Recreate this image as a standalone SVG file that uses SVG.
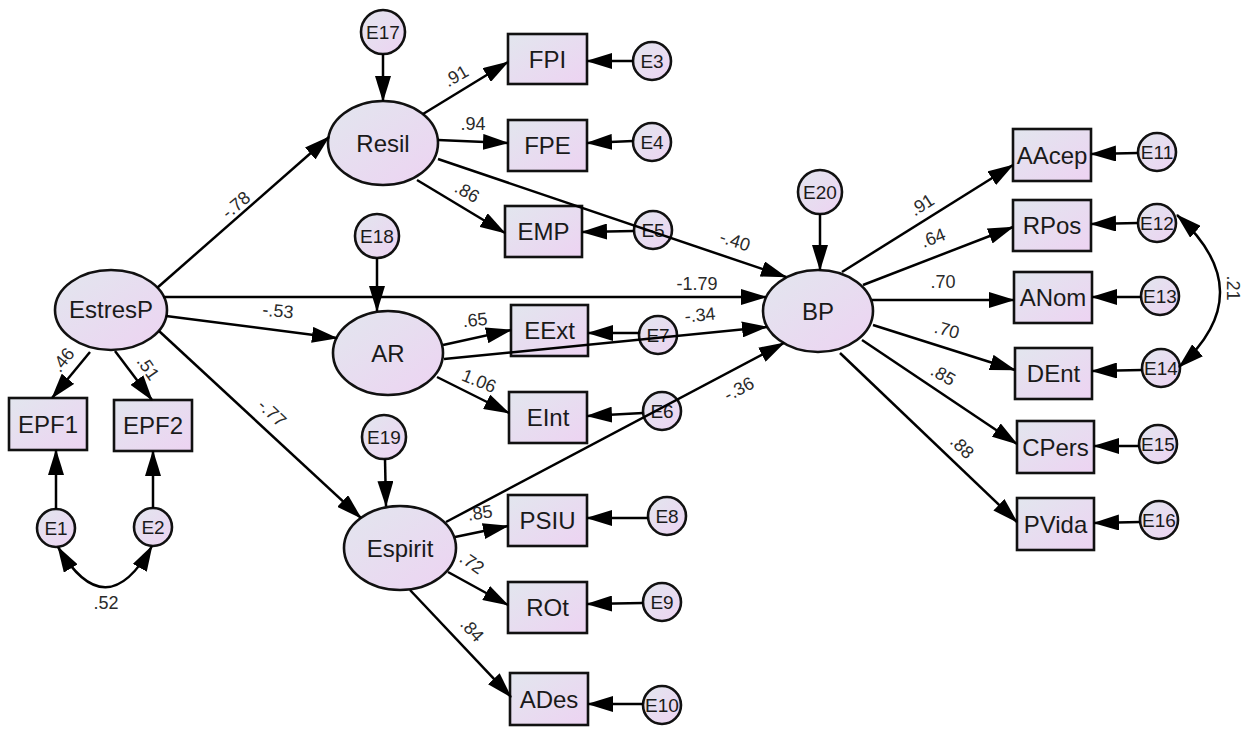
<svg xmlns="http://www.w3.org/2000/svg" width="1250" height="729" viewBox="0 0 1250 729">
  <defs>
    <linearGradient id="fillGrad" x1="0" y1="0" x2="1" y2="1">
      <stop offset="0" stop-color="#e2e6ee"/>
      <stop offset="1" stop-color="#edd3f2"/>
    </linearGradient>
    <marker id="arrow" markerUnits="userSpaceOnUse" markerWidth="26" markerHeight="16" viewBox="0 0 26 16" refX="25" refY="8" orient="auto-start-reverse">
      <path d="M0,0 L26,8 L0,16 Z" fill="#000"/>
    </marker>
    <style>
      .node { fill: url(#fillGrad); stroke: #111; stroke-width: 2.6; }
      .lbl { font-family: "Liberation Sans", Arial, sans-serif; font-size: 24px; fill: #1a1a1a; text-anchor: middle; dominant-baseline: central; }
      .elbl { font-family: "Liberation Sans", Arial, sans-serif; font-size: 19px; fill: #1a1a1a; text-anchor: middle; dominant-baseline: central; }
      .coef { font-family: "Liberation Sans", Arial, sans-serif; font-size: 18px; fill: #2a2a2a; text-anchor: middle; dominant-baseline: central; }
      .edge { fill: none; stroke: #000; stroke-width: 2.5; marker-end: url(#arrow); }
      .cov { fill: none; stroke: #000; stroke-width: 2.5; marker-start: url(#arrow); marker-end: url(#arrow); }
    </style>
  </defs>

  <rect width="1250" height="729" fill="#ffffff"/>

  <!-- latent variables -->
  <g id="EstresP"><ellipse class="node" cx="111" cy="310" rx="56" ry="40"/><text class="lbl" x="111" y="309">EstresP</text></g>
  <g id="Resil"><ellipse class="node" cx="383" cy="143" rx="55" ry="42"/><text class="lbl" x="383" y="143">Resil</text></g>
  <g id="AR"><ellipse class="node" cx="388" cy="353" rx="55" ry="42"/><text class="lbl" x="388" y="353">AR</text></g>
  <g id="Espirit"><ellipse class="node" cx="400" cy="548" rx="56" ry="42"/><text class="lbl" x="400" y="548">Espirit</text></g>
  <g id="BP"><ellipse class="node" cx="818" cy="311" rx="55" ry="41"/><text class="lbl" x="818" y="311">BP</text></g>

  <!-- observed indicators -->
  <g id="EPF1"><rect class="node" x="9" y="398" width="78" height="52"/><text class="lbl" x="48" y="424">EPF1</text></g>
  <g id="EPF2"><rect class="node" x="114" y="400" width="78" height="51"/><text class="lbl" x="153" y="425.5">EPF2</text></g>
  <g id="FPI"><rect class="node" x="508" y="34" width="79" height="50"/><text class="lbl" x="547.5" y="59">FPI</text></g>
  <g id="FPE"><rect class="node" x="508" y="120" width="79" height="51"/><text class="lbl" x="547.5" y="145.5">FPE</text></g>
  <g id="EMP"><rect class="node" x="505" y="206" width="77" height="51"/><text class="lbl" x="543.5" y="231.5">EMP</text></g>
  <g id="EExt"><rect class="node" x="511" y="305" width="77" height="51"/><text class="lbl" x="549.5" y="330.5">EExt</text></g>
  <g id="EInt"><rect class="node" x="509" y="392" width="78" height="51"/><text class="lbl" x="548" y="417.5">EInt</text></g>
  <g id="PSIU"><rect class="node" x="508" y="495" width="79" height="51"/><text class="lbl" x="547.5" y="520.5">PSIU</text></g>
  <g id="ROt"><rect class="node" x="508" y="582" width="79" height="51"/><text class="lbl" x="547.5" y="607.5">ROt</text></g>
  <g id="ADes"><rect class="node" x="510" y="673" width="78" height="52"/><text class="lbl" x="549" y="699">ADes</text></g>
  <g id="AAcep"><rect class="node" x="1013" y="129" width="78" height="52"/><text class="lbl" x="1052" y="155">AAcep</text></g>
  <g id="RPos"><rect class="node" x="1013" y="200" width="78" height="51"/><text class="lbl" x="1052" y="225.5">RPos</text></g>
  <g id="ANom"><rect class="node" x="1014" y="272" width="78" height="51"/><text class="lbl" x="1053" y="297.5">ANom</text></g>
  <g id="DEnt"><rect class="node" x="1015" y="348" width="77" height="51"/><text class="lbl" x="1053.5" y="373.5">DEnt</text></g>
  <g id="CPers"><rect class="node" x="1017" y="421" width="77" height="52"/><text class="lbl" x="1055.5" y="447">CPers</text></g>
  <g id="PVida"><rect class="node" x="1017" y="498" width="77" height="52"/><text class="lbl" x="1055.5" y="524">PVida</text></g>

  <!-- error terms -->
  <g id="E1"><circle class="node" cx="56" cy="528" r="19"/><text class="elbl" x="56" y="528">E1</text></g>
  <g id="E2"><circle class="node" cx="153" cy="527" r="19"/><text class="elbl" x="153" y="527">E2</text></g>
  <g id="E3"><circle class="node" cx="652" cy="61" r="19"/><text class="elbl" x="652" y="61">E3</text></g>
  <g id="E4"><circle class="node" cx="652" cy="142" r="19"/><text class="elbl" x="652" y="142">E4</text></g>
  <g id="E5"><circle class="node" cx="653" cy="230" r="19"/><text class="elbl" x="653" y="230">E5</text></g>
  <g id="E6"><circle class="node" cx="662" cy="411" r="19"/><text class="elbl" x="662" y="411">E6</text></g>
  <g id="E7"><circle class="node" cx="658" cy="335" r="19"/><text class="elbl" x="658" y="335">E7</text></g>
  <g id="E8"><circle class="node" cx="667" cy="516" r="19"/><text class="elbl" x="667" y="516">E8</text></g>
  <g id="E9"><circle class="node" cx="662" cy="602" r="19"/><text class="elbl" x="662" y="602">E9</text></g>
  <g id="E10"><circle class="node" cx="662" cy="705" r="19"/><text class="elbl" x="662" y="705">E10</text></g>
  <g id="E11"><circle class="node" cx="1157" cy="152" r="19"/><text class="elbl" x="1157" y="152">E11</text></g>
  <g id="E12"><circle class="node" cx="1157" cy="223" r="19"/><text class="elbl" x="1157" y="223">E12</text></g>
  <g id="E13"><circle class="node" cx="1160" cy="296" r="19"/><text class="elbl" x="1160" y="296">E13</text></g>
  <g id="E14"><circle class="node" cx="1161" cy="368" r="19"/><text class="elbl" x="1161" y="368">E14</text></g>
  <g id="E15"><circle class="node" cx="1158" cy="444" r="19"/><text class="elbl" x="1158" y="444">E15</text></g>
  <g id="E16"><circle class="node" cx="1159" cy="520" r="19"/><text class="elbl" x="1159" y="520">E16</text></g>
  <g id="E17"><circle class="node" cx="383" cy="32" r="22"/><text class="elbl" x="383" y="32">E17</text></g>
  <g id="E18"><circle class="node" cx="377" cy="236" r="22"/><text class="elbl" x="377" y="236">E18</text></g>
  <g id="E19"><circle class="node" cx="384" cy="437" r="22"/><text class="elbl" x="384" y="437">E19</text></g>
  <g id="E20"><circle class="node" cx="820" cy="192" r="22"/><text class="elbl" x="820" y="192">E20</text></g>

  <!-- paths, loadings, residual arrows and covariances -->
  <g id="connectors">
    <!-- EstresP -->
    <line class="edge" x1="157" y1="288" x2="329" y2="137"/>
    <line class="edge" x1="163" y1="297" x2="766" y2="297"/>
    <line class="edge" x1="166" y1="316" x2="337" y2="338"/>
    <line class="edge" x1="159" y1="331" x2="361" y2="518"/>
    <line class="edge" x1="90" y1="352" x2="52" y2="398"/>
    <line class="edge" x1="115" y1="351" x2="152" y2="400"/>
    <line class="edge" x1="56" y1="509" x2="56" y2="450"/>
    <line class="edge" x1="153" y1="508" x2="153" y2="451"/>
    <path class="cov" d="M58,547 Q106,628 152,546"/>

    <!-- Resil -->
    <line class="edge" x1="383" y1="54" x2="383" y2="101"/>
    <line class="edge" x1="423" y1="114" x2="508" y2="62"/>
    <line class="edge" x1="438" y1="140" x2="508" y2="143"/>
    <line class="edge" x1="417" y1="180" x2="505" y2="233"/>
    <line class="edge" x1="438" y1="159" x2="786" y2="277"/>
    <line class="edge" x1="633" y1="61" x2="587" y2="61"/>
    <line class="edge" x1="633" y1="141" x2="587" y2="143"/>
    <line class="edge" x1="634" y1="231" x2="582" y2="232"/>

    <!-- AR -->
    <line class="edge" x1="377" y1="258" x2="377" y2="311"/>
    <line class="edge" x1="443" y1="345" x2="511" y2="330"/>
    <line class="edge" x1="444" y1="359" x2="767" y2="327"/>
    <line class="edge" x1="437" y1="377" x2="509" y2="413"/>
    <line class="edge" x1="640" y1="333" x2="588" y2="333"/>
    <line class="edge" x1="643" y1="413" x2="587" y2="416"/>

    <!-- Espirit -->
    <line class="edge" x1="446" y1="522" x2="784" y2="343"/>
    <line class="edge" x1="385" y1="459" x2="386" y2="506"/>
    <line class="edge" x1="455" y1="537" x2="508" y2="526"/>
    <line class="edge" x1="448" y1="572" x2="508" y2="605"/>
    <line class="edge" x1="410" y1="590" x2="511" y2="697"/>
    <line class="edge" x1="648" y1="518" x2="587" y2="518"/>
    <line class="edge" x1="643" y1="603" x2="587" y2="604"/>
    <line class="edge" x1="643" y1="704" x2="588" y2="704"/>

    <!-- BP -->
    <line class="edge" x1="820" y1="214" x2="820" y2="270"/>
    <line class="edge" x1="842" y1="272" x2="1013" y2="165"/>
    <line class="edge" x1="863" y1="285" x2="1013" y2="227"/>
    <line class="edge" x1="872" y1="300" x2="1014" y2="300"/>
    <line class="edge" x1="873" y1="325" x2="1015" y2="370"/>
    <line class="edge" x1="862" y1="340" x2="1017" y2="444"/>
    <line class="edge" x1="840" y1="353" x2="1017" y2="522"/>
    <line class="edge" x1="1138" y1="153" x2="1091" y2="154"/>
    <line class="edge" x1="1138" y1="223" x2="1091" y2="224"/>
    <line class="edge" x1="1141" y1="297" x2="1092" y2="297"/>
    <line class="edge" x1="1142" y1="370" x2="1092" y2="371"/>
    <line class="edge" x1="1139" y1="446" x2="1094" y2="446"/>
    <line class="edge" x1="1140" y1="522" x2="1094" y2="523"/>
    <path class="cov" d="M1177,215 Q1262,292 1179,367"/>

    <!-- coefficients -->
    <text class="coef" transform="translate(236,205) rotate(-40)">-.78</text>
    <text class="coef" transform="translate(697,284)">-1.79</text>
    <text class="coef" transform="translate(278,311) rotate(5)">-.53</text>
    <text class="coef" transform="translate(272,413) rotate(43)">-.77</text>
    <text class="coef" transform="translate(63,360) rotate(-52)">.46</text>
    <text class="coef" transform="translate(148,368) rotate(55)">.51</text>
    <text class="coef" transform="translate(106,603)">.52</text>
    <text class="coef" transform="translate(456,76) rotate(-30)">.91</text>
    <text class="coef" transform="translate(473,124)">.94</text>
    <text class="coef" transform="translate(467,192) rotate(30)">.86</text>
    <text class="coef" transform="translate(735,241) rotate(18)">-.40</text>
    <text class="coef" transform="translate(475,320) rotate(-6)">.65</text>
    <text class="coef" transform="translate(700,315) rotate(-6)">-.34</text>
    <text class="coef" transform="translate(479,381) rotate(22)">1.06</text>
    <text class="coef" transform="translate(739,389) rotate(-28)">-.36</text>
    <text class="coef" transform="translate(480,513) rotate(-8)">.85</text>
    <text class="coef" transform="translate(472,563) rotate(35)">.72</text>
    <text class="coef" transform="translate(472,630) rotate(48)">.84</text>
    <text class="coef" transform="translate(922,205) rotate(-33)">.91</text>
    <text class="coef" transform="translate(933,238) rotate(-21)">.64</text>
    <text class="coef" transform="translate(943,282)">.70</text>
    <text class="coef" transform="translate(947,330) rotate(15)">.70</text>
    <text class="coef" transform="translate(943,375) rotate(30)">.85</text>
    <text class="coef" transform="translate(962,447) rotate(45)">.88</text>
    <text class="coef" transform="translate(1233,288) rotate(90)">.21</text>
  </g>
</svg>
